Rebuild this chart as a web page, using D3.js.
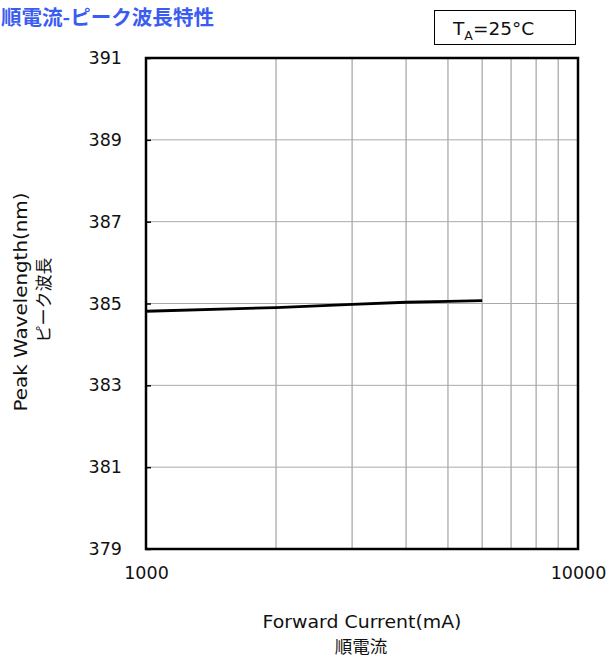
<!DOCTYPE html>
<html><head><meta charset="utf-8">
<script src="https://cdn.jsdelivr.net/npm/d3@7"></script>
<style>
body{margin:0;background:#fff;}
svg{display:block;font-family:"DejaVu Sans",Verdana,sans-serif;}
</style></head>
<body>
<script>
const current = [1000, 2000, 3000, 4000, 5000, 6000];
const wavelength = [384.81, 384.90, 384.98, 385.03, 385.05, 385.07];
const yTicks = [379, 381, 383, 385, 387, 389, 391];
const xTickLabels = [1000, 10000];
const xGrid = [2000, 3000, 4000, 5000, 6000, 7000, 8000, 9000];

const W = 611, H = 657;
const m = {left:146, right:578, top:58, bottom:549};
const svg = d3.select("body").append("svg").attr("width", W).attr("height", H);

const x = d3.scaleLog().domain([1000, 10000]).range([m.left, m.right]);
const y = d3.scaleLinear().domain([379, 391]).range([m.bottom, m.top]);

// grid
svg.append("g").selectAll("line").data(xGrid).join("line")
  .attr("x1", d => x(d)).attr("x2", d => x(d))
  .attr("y1", m.top).attr("y2", m.bottom)
  .attr("stroke", "#aaa").attr("stroke-width", 1.3);
svg.append("g").selectAll("line").data(yTicks.slice(1, -1)).join("line")
  .attr("x1", m.left).attr("x2", m.right)
  .attr("y1", d => y(d)).attr("y2", d => y(d))
  .attr("stroke", "#aaa").attr("stroke-width", 1);

// y axis ticks (inside)
const yAxis = d3.axisLeft(y).tickValues(yTicks).tickSize(-5).tickPadding(24).tickFormat(d3.format("d"));
const gy = svg.append("g").attr("transform", `translate(${m.left},0)`).call(yAxis);
gy.select(".domain").remove();
gy.selectAll(".tick line").attr("stroke", "#000").attr("stroke-width", 1.5);
gy.selectAll("text").attr("font-size", 17.5).attr("fill", "#111").attr("font-family", "DejaVu Sans, Verdana, sans-serif");

// x axis labels
const xAxis = d3.axisBottom(x).tickValues(xTickLabels).tickSize(0).tickPadding(18).tickFormat(d3.format("d"));
const gx = svg.append("g").attr("transform", `translate(0,${m.bottom})`).call(xAxis);
gx.select(".domain").remove();
gx.selectAll("text").attr("font-size", 17.5).attr("fill", "#111").attr("font-family", "DejaVu Sans, Verdana, sans-serif");

// frame
svg.append("rect").attr("x", m.left).attr("y", m.top)
  .attr("width", m.right - m.left).attr("height", m.bottom - m.top)
  .attr("fill", "none").attr("stroke", "#000").attr("stroke-width", 2.5);

// line
const line = d3.line().x((d, i) => x(current[i])).y(d => y(d));
svg.append("path").datum(wavelength).attr("d", line)
  .attr("fill", "none").attr("stroke", "#000").attr("stroke-width", 2.8);

// title
svg.append("text").attr("x", 1).attr("y", 25).text("順電流-ピーク波長特性")
  .attr("font-family", "Noto Sans CJK JP").attr("font-weight", "bold")
  .attr("font-size", 20.5).attr("textLength", 213).attr("lengthAdjust", "spacingAndGlyphs")
  .attr("fill", "#3a5cf0");

// legend box
svg.append("rect").attr("x", 434.5).attr("y", 10.5).attr("width", 141).attr("height", 34)
  .attr("fill", "#fff").attr("stroke", "#000").attr("stroke-width", 1);
const lt = svg.append("text").attr("x", 453).attr("y", 35).attr("font-size", 18.5).attr("fill", "#111");
lt.append("tspan").text("T");
lt.append("tspan").text("A").attr("font-size", 12.5).attr("dy", 5);
lt.append("tspan").text("=25°C").attr("dy", -5);

// axis titles
svg.append("text").attr("x", 362).attr("y", 628).attr("text-anchor", "middle")
  .attr("font-size", 17).attr("textLength", 199).attr("lengthAdjust", "spacingAndGlyphs")
  .attr("fill", "#111").text("Forward Current(mA)");
svg.append("text").attr("x", 361).attr("y", 653).attr("text-anchor", "middle")
  .attr("font-family", "Noto Sans CJK JP").attr("font-size", 17.5).attr("fill", "#111").text("順電流");

svg.append("text").attr("transform", "translate(27,302) rotate(-90)").attr("text-anchor", "middle")
  .attr("font-size", 17).attr("textLength", 219).attr("lengthAdjust", "spacingAndGlyphs")
  .attr("fill", "#111").text("Peak Wavelength(nm)");
svg.append("text").attr("transform", "translate(50,300) rotate(-90)").attr("text-anchor", "middle")
  .attr("font-family", "Noto Sans CJK JP").attr("font-size", 17).attr("fill", "#111").text("ピーク波長");
</script>
</body></html>
